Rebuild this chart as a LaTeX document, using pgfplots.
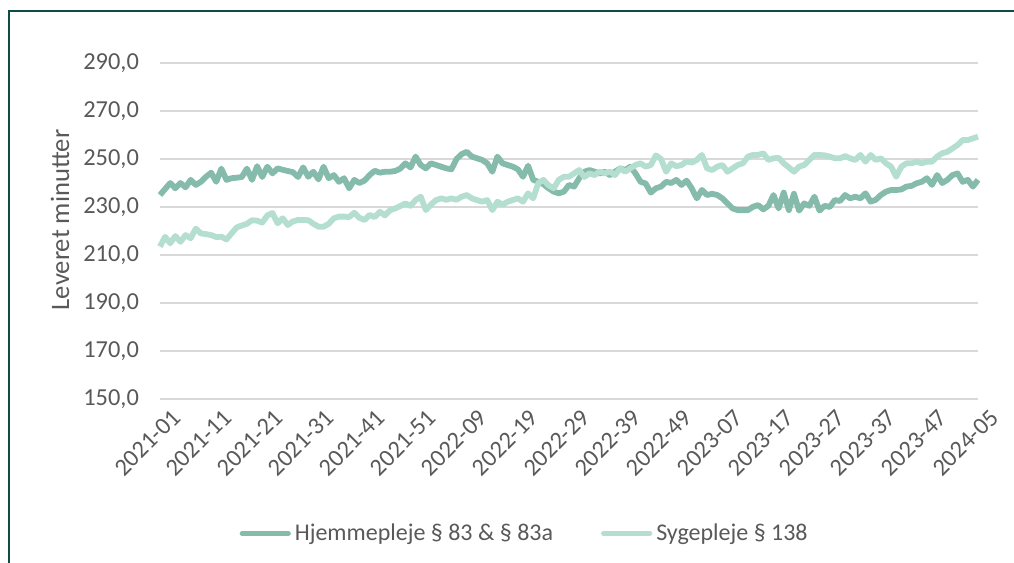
\documentclass[border=0pt]{standalone}
\usepackage{fontspec}
\setmainfont{Carlito}
\usepackage{pgfplots}
\usepackage{pgfplotstable}
\pgfplotsset{compat=1.18}
\definecolor{hjem}{HTML}{84BBAA}
\definecolor{syge}{HTML}{B4DED0}
\definecolor{txt}{HTML}{595959}
\definecolor{grd}{HTML}{D9D9D9}
\definecolor{frame}{HTML}{0E4C48}
\pgfplotstableread{
i hj sy
0 235.0 213.5
1 237.5 217.6
2 240.0 214.9
3 237.8 217.9
4 240.0 215.5
5 238.2 218.3
6 241.3 217.0
7 239.2 221.0
8 240.5 219.0
9 242.6 218.7
10 244.3 218.3
11 240.5 217.5
12 246.0 217.6
13 241.3 216.5
14 242.0 219.0
15 242.2 221.5
16 242.5 222.3
17 246.0 223.0
18 241.3 224.5
19 247.0 224.3
20 242.5 223.5
21 246.8 226.5
22 244.0 227.5
23 246.1 223.2
24 245.5 225.3
25 245.0 222.5
26 244.5 224.0
27 242.5 224.6
28 246.5 224.6
29 242.6 224.5
30 244.7 223.0
31 241.5 221.8
32 246.8 221.8
33 242.0 223.0
34 243.3 225.3
35 240.5 226.0
36 242.0 226.0
37 237.8 225.8
38 241.3 227.6
39 240.0 225.5
40 241.0 224.6
41 243.3 226.7
42 245.1 225.8
43 244.3 228.0
44 244.7 226.5
45 244.7 228.7
46 245.0 229.4
47 246.0 230.4
48 248.2 231.5
49 246.5 230.5
50 251.0 232.9
51 247.5 234.3
52 246.1 228.7
53 248.2 231.0
54 247.5 232.9
55 246.8 233.6
56 246.1 233.0
57 245.7 233.6
58 250.0 233.0
59 252.0 234.3
60 253.0 235.0
61 251.0 233.6
62 250.3 232.9
63 249.6 232.2
64 248.2 232.9
65 244.7 228.7
66 251.0 232.2
67 248.2 231.0
68 247.5 232.2
69 246.8 232.9
70 245.7 233.6
71 242.6 232.2
72 247.2 235.7
73 241.3 233.6
74 240.5 240.0
75 239.5 241.3
76 237.8 239.0
77 236.4 237.8
78 235.7 241.3
79 236.4 242.6
80 239.2 242.6
81 238.5 244.0
82 242.0 245.4
83 244.7 242.5
84 245.4 244.0
85 244.7 243.3
86 244.0 244.7
87 244.7 244.0
88 243.3 244.7
89 244.7 243.3
90 246.1 246.1
91 245.4 244.7
92 246.8 246.1
93 244.0 247.5
94 240.5 248.2
95 239.8 246.8
96 236.0 247.5
97 237.8 251.5
98 238.5 250.0
99 240.5 244.7
100 240.0 248.2
101 241.3 247.0
102 239.2 247.5
103 241.0 249.0
104 237.8 248.5
105 233.6 249.6
106 237.1 251.7
107 235.0 246.1
108 235.5 245.4
109 235.0 246.8
110 233.6 247.5
111 231.5 244.7
112 229.4 246.1
113 228.7 247.5
114 228.7 248.2
115 228.7 251.0
116 230.1 251.7
117 230.8 251.7
118 229.0 252.4
119 230.5 249.6
120 235.0 250.3
121 229.4 250.5
122 236.0 248.2
123 228.7 246.5
124 235.5 244.7
125 228.5 246.8
126 231.5 247.5
127 230.5 249.6
128 234.3 251.7
129 228.5 251.7
130 230.5 251.5
131 230.0 251.0
132 232.9 250.3
133 232.5 250.3
134 235.0 251.2
135 233.6 250.3
136 234.3 249.6
137 233.6 251.7
138 235.7 248.9
139 232.2 251.7
140 233.0 249.6
141 235.0 250.3
142 236.4 248.2
143 237.1 246.8
144 237.1 242.6
145 237.3 246.8
146 238.5 248.2
147 238.8 248.2
148 239.9 248.9
149 240.5 248.2
150 242.0 248.9
151 239.2 248.9
152 243.3 251.0
153 240.0 252.4
154 241.3 253.0
155 243.3 254.4
156 244.0 255.8
157 240.5 257.9
158 241.3 257.9
159 238.5 258.6
160 241.3 259.3
}\data
\begin{document}
\begin{tikzpicture}[x=1pt,y=1pt]
\useasboundingbox (0,0) rectangle (507,281.5);
\draw[frame, line width=1pt] (4.5,0) -- (4.5,276) -- (507,276);
\begin{axis}[
  at={(80pt,82pt)}, anchor=south west,
  scale only axis, width=409pt, height=168pt,
  xmin=0, xmax=160, ymin=150, ymax=290,
  ytick={150,170,...,290},
  xtick={0,10,...,160},
  xticklabels={2021-01,2021-11,2021-21,2021-31,2021-41,2021-51,2022-09,2022-19,2022-29,2022-39,2022-49,2023-07,2023-17,2023-27,2023-37,2023-47,2024-05},
  axis line style={draw=none},
  major tick length=0pt,
  ymajorgrids, grid style={grd, line width=1pt},
  tick label style={font=\fontsize{12.2}{14}\selectfont, text=txt},
  yticklabel style={/pgf/number format/fixed, /pgf/number format/fixed zerofill, /pgf/number format/precision=1, /pgf/number format/use comma, /pgf/number format/assume math mode=true},
  yticklabel style={anchor=east, xshift=-7pt},
  xticklabel style={rotate=45, anchor=east, xshift=4pt, yshift=-11pt},
  legend style={at={(0.447,-0.40)}, anchor=center, draw=none, fill=none,
    font=\fontsize{12}{14}\selectfont, text=txt, legend columns=2,
    /tikz/every even column/.append style={column sep=22pt}},
  legend image code/.code={\draw[#1, line width=2.6pt, line cap=round] (0pt,0pt) -- (23pt,0pt);},
  clip=false,
]
\addplot[hjem, line width=2.9pt, line join=round] table[x=i, y=hj] {\data};
\addlegendentry{Hjemmepleje § 83 \& § 83a}
\addplot[syge, line width=2.9pt, line join=round] table[x=i, y=sy] {\data};
\addlegendentry{Sygepleje § 138}
\end{axis}
\node[rotate=90, text=txt, font=\fontsize{13.3}{15}\selectfont] at (30,171.5) {Leveret minutter};
\end{tikzpicture}
\end{document}
